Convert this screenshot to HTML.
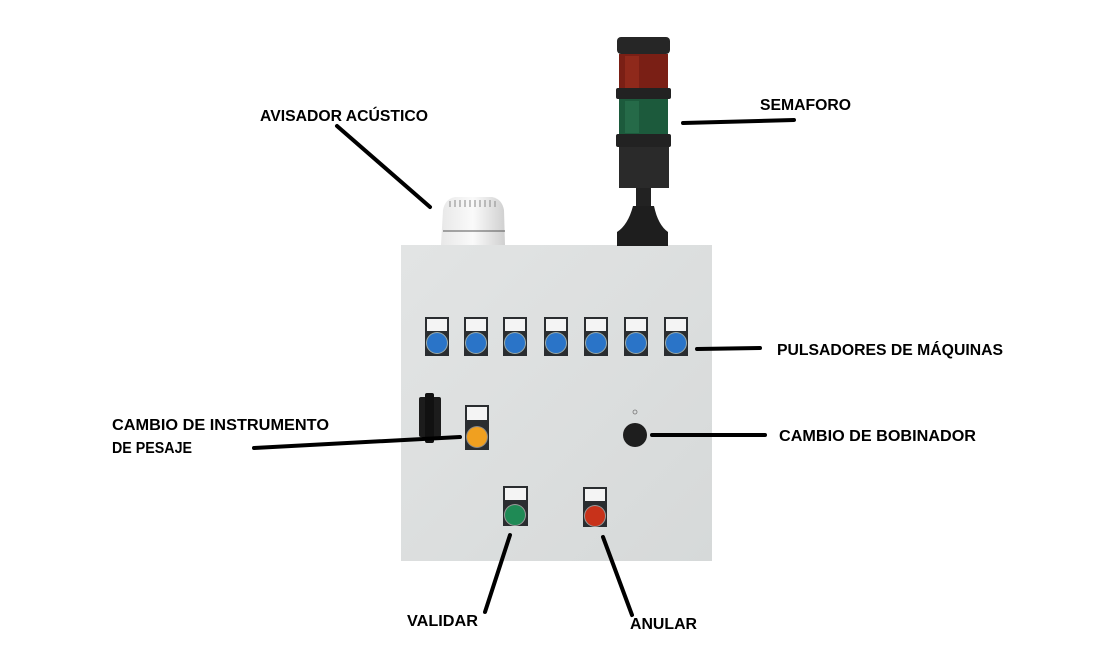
<!DOCTYPE html>
<html><head><meta charset="utf-8"><style>
html,body{margin:0;padding:0;background:#fff;}
svg{display:block}
text{font-family:"Liberation Sans",sans-serif;font-weight:bold;font-size:16px;fill:#000}
</style></head><body>
<svg width="1112" height="663" viewBox="0 0 1112 663" xmlns="http://www.w3.org/2000/svg">
<defs>
<linearGradient id="pg" x1="0" y1="0" x2="1" y2="1"><stop offset="0" stop-color="#e2e4e4"/><stop offset="1" stop-color="#d6d9d9"/></linearGradient>
<linearGradient id="sir" x1="0" x2="1"><stop offset="0" stop-color="#e8e8e8"/><stop offset=".5" stop-color="#fafafa"/><stop offset="1" stop-color="#d0d0d0"/></linearGradient>
</defs>
<rect x="401" y="245" width="311" height="316" fill="url(#pg)"/>
<path d="M443 210 Q445 199 455 197 L492 197 Q502 199 504 210 L505 245 L441 245 Z" fill="url(#sir)"/>
<line x1="443" y1="231" x2="505" y2="231" stroke="#555" stroke-width="1"/>
<g stroke="#999" stroke-width="1.2"><line x1="450" y1="201" x2="450" y2="207"/><line x1="455" y1="200" x2="455" y2="207"/><line x1="460" y1="200" x2="460" y2="207"/><line x1="465" y1="200" x2="465" y2="207"/><line x1="470" y1="200" x2="470" y2="207"/><line x1="475" y1="200" x2="475" y2="207"/><line x1="480" y1="200" x2="480" y2="207"/><line x1="485" y1="200" x2="485" y2="207"/><line x1="490" y1="200" x2="490" y2="207"/><line x1="495" y1="201" x2="495" y2="207"/></g>
<rect x="617" y="37" width="53" height="17" rx="4" fill="#262626"/>
<rect x="619" y="54" width="49" height="36" fill="#7a1f15"/>
<rect x="625" y="56" width="14" height="32" fill="#9c3020" opacity=".6"/>
<rect x="616" y="88" width="55" height="11" rx="2" fill="#222"/>
<rect x="619" y="99" width="49" height="36" fill="#1c5a3c"/>
<rect x="625" y="101" width="14" height="32" fill="#2c7550" opacity=".6"/>
<rect x="616" y="134" width="55" height="13" rx="2" fill="#222"/>
<rect x="619" y="147" width="50" height="41" fill="#2a2a2a"/>
<rect x="636" y="188" width="15" height="20" fill="#222"/>
<path d="M633 206 L654 206 Q658 225 668 232 L668 246 L617 246 L617 232 Q628 225 633 206 Z" fill="#1e1e1e"/>
<g>
<g transform="translate(437,0)"><rect x="-12" y="317" width="24" height="39" fill="#2a2d30"/><rect x="-10" y="319" width="20" height="12" fill="#f4f4f4"/><circle cx="0" cy="343" r="11" fill="#9aa" /><circle cx="0" cy="343" r="10" fill="#2a74c8"/></g>
<g transform="translate(476,0)"><rect x="-12" y="317" width="24" height="39" fill="#2a2d30"/><rect x="-10" y="319" width="20" height="12" fill="#f4f4f4"/><circle cx="0" cy="343" r="11" fill="#9aa"/><circle cx="0" cy="343" r="10" fill="#2a74c8"/></g>
<g transform="translate(515,0)"><rect x="-12" y="317" width="24" height="39" fill="#2a2d30"/><rect x="-10" y="319" width="20" height="12" fill="#f4f4f4"/><circle cx="0" cy="343" r="11" fill="#9aa"/><circle cx="0" cy="343" r="10" fill="#2a74c8"/></g>
<g transform="translate(556,0)"><rect x="-12" y="317" width="24" height="39" fill="#2a2d30"/><rect x="-10" y="319" width="20" height="12" fill="#f4f4f4"/><circle cx="0" cy="343" r="11" fill="#9aa"/><circle cx="0" cy="343" r="10" fill="#2a74c8"/></g>
<g transform="translate(596,0)"><rect x="-12" y="317" width="24" height="39" fill="#2a2d30"/><rect x="-10" y="319" width="20" height="12" fill="#f4f4f4"/><circle cx="0" cy="343" r="11" fill="#9aa"/><circle cx="0" cy="343" r="10" fill="#2a74c8"/></g>
<g transform="translate(636,0)"><rect x="-12" y="317" width="24" height="39" fill="#2a2d30"/><rect x="-10" y="319" width="20" height="12" fill="#f4f4f4"/><circle cx="0" cy="343" r="11" fill="#9aa"/><circle cx="0" cy="343" r="10" fill="#2a74c8"/></g>
<g transform="translate(676,0)"><rect x="-12" y="317" width="24" height="39" fill="#2a2d30"/><rect x="-10" y="319" width="20" height="12" fill="#f4f4f4"/><circle cx="0" cy="343" r="11" fill="#9aa"/><circle cx="0" cy="343" r="10" fill="#2a74c8"/></g>
</g>
<rect x="419" y="397" width="22" height="40" rx="2" fill="#1c1c1c"/>
<rect x="425" y="393" width="9" height="50" rx="2" fill="#111"/>
<rect x="465" y="405" width="24" height="45" fill="#2a2d30"/><rect x="467" y="407" width="20" height="13" fill="#f4f4f4"/><circle cx="477" cy="437" r="11" fill="#888"/><circle cx="477" cy="437" r="10" fill="#f0a020"/>
<circle cx="635" cy="435" r="12" fill="#1e1e1e"/>
<circle cx="635" cy="412" r="2" fill="none" stroke="#777" stroke-width=".8"/>
<rect x="503" y="486" width="25" height="40" fill="#2a2d30"/><rect x="505" y="488" width="21" height="12" fill="#f4f4f4"/><circle cx="515" cy="515" r="11" fill="#999"/><circle cx="515" cy="515" r="10" fill="#1f8a55"/>
<rect x="583" y="487" width="24" height="40" fill="#2a2d30"/><rect x="585" y="489" width="20" height="12" fill="#f4f4f4"/><circle cx="595" cy="516" r="11" fill="#999"/><circle cx="595" cy="516" r="10" fill="#c8321a"/>
<g stroke="#000" stroke-width="4" stroke-linecap="round">
<line x1="337" y1="126" x2="430" y2="207"/>
<line x1="683" y1="123" x2="794" y2="120"/>
<line x1="697" y1="349" x2="760" y2="348"/>
<line x1="254" y1="448" x2="460" y2="437"/>
<line x1="652" y1="435" x2="765" y2="435"/>
<line x1="510" y1="535" x2="485" y2="612"/>
<line x1="603" y1="537" x2="632" y2="615"/>
</g>
<text x="260" y="121" textLength="168" lengthAdjust="spacingAndGlyphs">AVISADOR ACÚSTICO</text>
<text x="760" y="110" textLength="91" lengthAdjust="spacingAndGlyphs">SEMAFORO</text>
<text x="777" y="355" textLength="226" lengthAdjust="spacingAndGlyphs">PULSADORES DE MÁQUINAS</text>
<text x="112" y="430" textLength="217" lengthAdjust="spacingAndGlyphs">CAMBIO DE INSTRUMENTO</text>
<text x="112" y="453" textLength="80" lengthAdjust="spacingAndGlyphs">DE PESAJE</text>
<text x="779" y="441" textLength="197" lengthAdjust="spacingAndGlyphs">CAMBIO DE BOBINADOR</text>
<text x="407" y="626" textLength="71" lengthAdjust="spacingAndGlyphs">VALIDAR</text>
<text x="630" y="629" textLength="67" lengthAdjust="spacingAndGlyphs">ANULAR</text>
</svg>
</body></html>
